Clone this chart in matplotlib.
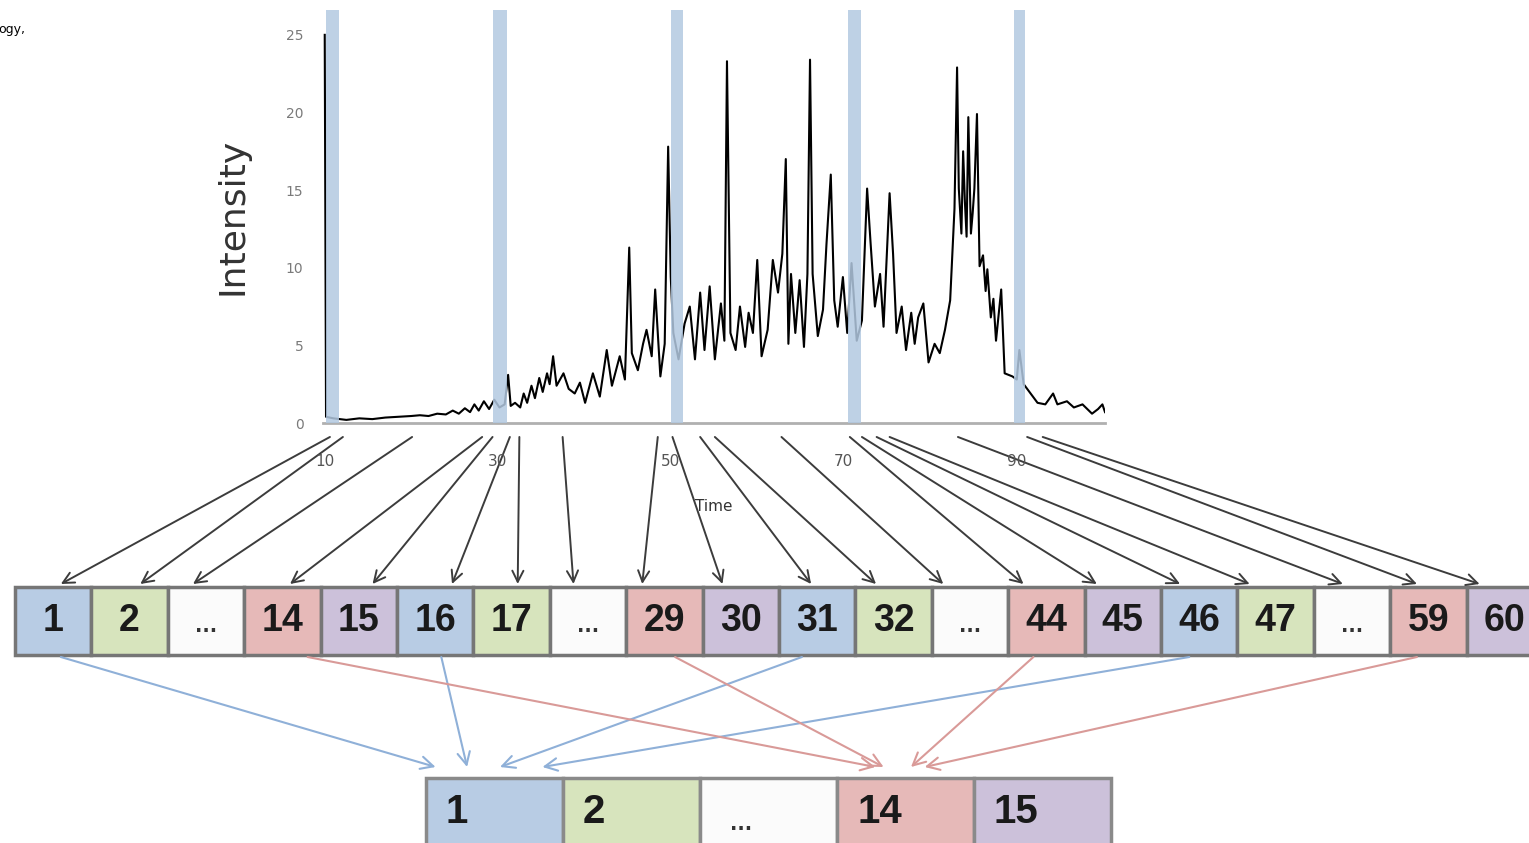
import matplotlib
matplotlib.use('Agg')
import matplotlib.pyplot as plt
from matplotlib.patches import Rectangle

# chromatogram trace
time = [10.0, 10.15, 11.0, 12.5, 14.0, 15.5, 17.0, 18.5, 20.0, 21.0, 22.0, 23.0,
        24.0, 24.8, 25.5, 26.2, 26.8, 27.3, 27.8, 28.4, 29.0, 29.6, 30.2, 30.8,
        31.2, 31.5, 32.0, 32.6, 33.0, 33.4, 33.9, 34.3, 34.8, 35.2, 35.7, 36.0,
        36.4, 36.8, 37.6, 38.2, 38.9, 39.5, 40.1, 41.0, 41.8, 42.6, 43.2, 44.1,
        44.7, 45.2, 45.5, 46.2, 46.8, 47.2, 47.8, 48.2, 48.8, 49.3, 49.7, 50.0,
        50.3, 50.9, 51.6, 52.2, 52.8, 53.4, 53.9, 54.5, 55.1, 55.8, 56.2, 56.5,
        56.9, 57.5, 58.0, 58.6, 59.0, 59.5, 60.0, 60.5, 61.2, 61.8, 62.4, 62.9,
        63.3, 63.6, 63.9, 64.4, 64.9, 65.4, 65.8, 66.1, 66.4, 67.0, 67.6, 68.0,
        68.5, 68.9, 69.3, 69.9, 70.4, 70.9, 71.5, 72.1, 72.7, 73.1, 73.6, 74.2,
        74.6, 75.3, 75.7, 76.1, 76.7, 77.2, 77.8, 78.2, 78.6, 79.2, 79.8, 80.5,
        81.1, 81.7, 82.3, 82.8, 83.1, 83.3, 83.6, 83.8, 84.0, 84.2, 84.4, 84.7,
        84.9, 85.1, 85.4, 85.7, 86.1, 86.4, 86.6, 87.0, 87.3, 87.6, 88.2, 88.6,
        89.5, 90.0, 90.3, 90.8, 91.6, 92.4, 93.3, 94.2, 94.7, 95.8, 96.6, 97.6,
        98.7, 99.4, 99.9, 100.2]
intensity = [25.0, 0.4, 0.3, 0.2, 0.3, 0.25, 0.35, 0.4, 0.45, 0.5, 0.45, 0.6,
             0.55, 0.8, 0.6, 0.95, 0.7, 1.2, 0.8, 1.4, 0.9, 1.5, 1.0, 1.2,
             3.1, 1.1, 1.3, 1.0, 1.9, 1.3, 2.4, 1.6, 2.9, 2.0, 3.2, 2.5,
             4.3, 2.4, 3.2, 2.2, 1.9, 2.6, 1.3, 3.2, 1.7, 4.7, 2.4, 4.3,
             2.8, 11.3, 4.5, 3.4, 5.1, 6.0, 4.3, 8.6, 3.0, 5.1, 17.8, 9.4,
             5.8, 4.1, 6.4, 7.5, 4.1, 8.4, 4.7, 8.8, 4.1, 7.7, 5.3, 23.3,
             5.8, 4.7, 7.5, 4.9, 7.1, 5.8, 10.5, 4.3, 6.0, 10.5, 8.4, 10.9,
             17.0, 5.1, 9.6, 5.8, 9.2, 4.9, 9.6, 23.4, 9.6, 5.6, 7.3, 11.5,
             16.0, 7.9, 6.2, 9.4, 5.8, 10.3, 5.3, 6.6, 15.1, 11.6, 7.5, 9.6,
             6.2, 14.8, 10.9, 5.8, 7.5, 4.7, 7.1, 5.1, 6.8, 7.7, 3.9, 5.1,
             4.5, 6.0, 7.9, 13.8, 22.9, 15.1, 12.2, 17.5, 14.3, 12.0, 19.7, 12.2,
             13.5, 15.1, 19.9, 10.1, 10.8, 8.5, 9.9, 6.8, 8.0, 5.3, 8.6, 3.2,
             3.0, 2.8, 4.7, 2.5, 1.9, 1.3, 1.2, 1.9, 1.2, 1.4, 1.0, 1.2,
             0.6, 0.9, 1.2, 0.7]

# highlighted retention-time windows (start, end)
windows = [(10.1, 11.6), (29.5, 31.1), (50.0, 51.4), (70.5, 72.0), (89.7, 91.0)]

xticks = [10, 30, 50, 70, 90]
yticks = [0, 5, 10, 15, 20, 25]

# spectra picked along the run, one per slot in the row below
scan_times = [10.6, 12.1, 20.1, 28.2, 29.4, 31.4, 32.5, 37.5, 48.5, 50.2,
              53.4, 55.1, 62.8, 70.7, 72.1, 73.8, 75.3, 83.2, 91.2, 93.0]
slot_labels = ['1', '2', '...', '14', '15', '16', '17', '...', '29', '30',
               '31', '32', '...', '44', '45', '46', '47', '...', '59', '60']
window_labels = ['1', '2', '...', '14', '15']
# slots that get summed into one window: (slot, window)
merges = [(0, 0), (5, 0), (10, 0), (15, 0), (3, 3), (8, 3), (13, 3), (18, 3)]

palette = ['#b8cce4', '#d7e4bd', '#fbfbfb', '#e6b9b8', '#ccc1da']
merge_colors = {0: '#8fb0d8', 3: '#d99a98'}

# layout, in pixels of the 1529x843 canvas
W, H = 1529, 843
slot_x0, slot_w, slot_top, slot_bot = 15, 76.4, 587, 655
win_x0, win_w, win_top = 426, 137, 778
scan_land = [0.6, 0.64, 0.33, 0.6, 0.68, 0.72, 0.58, 0.31, 0.21, 0.26,
             0.42, 0.27, 0.15, 0.2, 0.16, 0.25, 0.16, 0.38, 0.35, 0.17]
merge_from = [0.6, 0.58, 0.3, 0.37, 0.83, 0.64, 0.33, 0.35]
merge_to = [0.07, 0.3, 0.54, 0.85, 0.28, 0.34, 0.54, 0.64]

fig = plt.figure(figsize=(W / 100, H / 100), dpi=100)
canvas = fig.add_axes([0, 0, 1, 1])
canvas.set_xlim(0, W)
canvas.set_ylim(H, 0)
canvas.axis('off')

ax = fig.add_axes([323 / W, 1 - 423 / H, 782 / W, 413 / H])
ax.set_facecolor('none')
ax.plot(time, intensity, color='black', lw=1.5, zorder=2)
for a, b in windows:
    ax.axvspan(a, b, color='#b3c9e1', alpha=0.85, lw=0, zorder=3)
ax.set_xlim(9.8, 100.2)
ax.set_ylim(0, 26.6)
ax.set_xticks(xticks)
ax.set_yticks(yticks)
ax.tick_params(axis='y', length=0, pad=14, labelsize=10, labelcolor='#7a7a7a')
ax.tick_params(axis='x', length=0, pad=22, labelsize=11, labelcolor='#555555')
for s in ['top', 'right', 'left']:
    ax.spines[s].set_visible(False)
ax.spines['bottom'].set_color('#b0b0b0')
ax.spines['bottom'].set_linewidth(2)
ax.set_xlabel('Time', fontsize=11, color='#333333', labelpad=22)
ax.set_ylabel('Intensity', fontsize=26, color='#333333', labelpad=26)

canvas.text(-2, 30, 'ogy,', fontsize=9, ha='left', va='center')

num_font = ['Liberation Sans', 'DejaVu Sans']

# slots for individual spectra
for i, lab in enumerate(slot_labels):
    x = slot_x0 + i * slot_w
    canvas.add_patch(Rectangle((x, slot_top), slot_w, slot_bot - slot_top,
                               facecolor=palette[i % 5], edgecolor='#767676',
                               lw=2.5, zorder=2))
    if lab == '...':
        canvas.text(x + slot_w / 2, 626, '...', ha='center', va='center',
                    fontsize=14, fontweight='bold', color='#333333', zorder=3)
    else:
        canvas.text(x + slot_w / 2, 621, lab, ha='center', va='center',
                    fontsize=27, fontweight='bold', color='#1a1a1a',
                    family=num_font, zorder=3)

# summed windows
for i, lab in enumerate(window_labels):
    x = win_x0 + i * win_w
    canvas.add_patch(Rectangle((x, win_top), win_w, 120,
                               facecolor=palette[i % 5], edgecolor='#8a8a8a',
                               lw=2.5, zorder=2))
    if lab == '...':
        canvas.text(x + 30, 824, '...', ha='left', va='center',
                    fontsize=14, fontweight='bold', color='#333333', zorder=3)
    else:
        canvas.text(x + 20, 812, lab, ha='left', va='center',
                    fontsize=29, fontweight='bold', color='#1a1a1a',
                    family=num_font, zorder=3)

# spectrum -> slot arrows
for i, t in enumerate(scan_times):
    xe = slot_x0 + (i + scan_land[i]) * slot_w
    canvas.annotate('', xy=(xe, slot_top - 3), xycoords='data',
                    xytext=(t, -0.9), textcoords=ax.transData,
                    arrowprops=dict(arrowstyle='->,head_length=0.8,head_width=0.4',
                                    color='#3c3c3c', lw=1.4,
                                    shrinkA=0, shrinkB=0))

# slot -> window arrows
for k, (s, w) in enumerate(merges):
    xs = slot_x0 + (s + merge_from[k]) * slot_w
    xe = win_x0 + (w + merge_to[k]) * win_w
    canvas.annotate('', xy=(xe, 767), xytext=(xs, slot_bot + 2),
                    arrowprops=dict(arrowstyle='->,head_length=0.9,head_width=0.45',
                                    color=merge_colors[w], lw=1.5,
                                    shrinkA=0, shrinkB=0))

fig.savefig('out.png', dpi=100)
